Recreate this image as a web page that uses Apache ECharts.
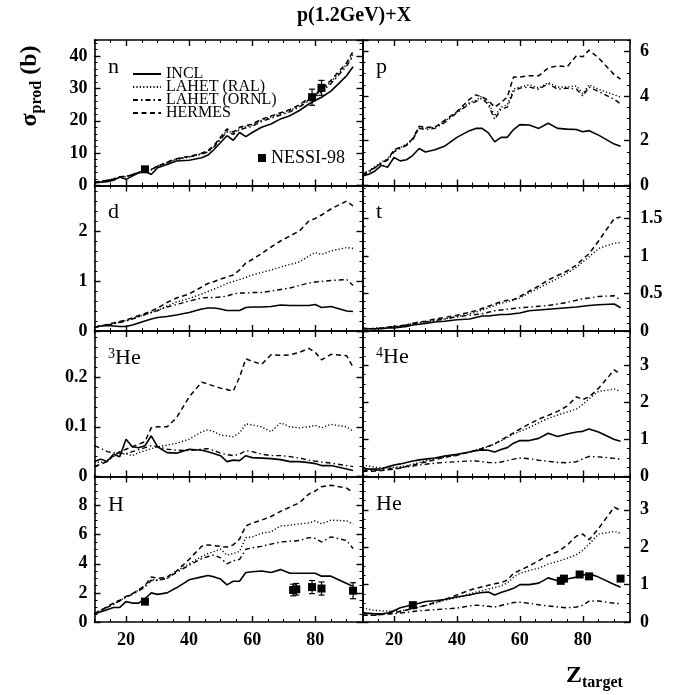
<!DOCTYPE html>
<html><head><meta charset="utf-8">
<script src="https://cdn.jsdelivr.net/npm/echarts@6/dist/echarts.min.js"></script>
<style>html,body{margin:0;padding:0;background:#fff}#c{width:693px;height:695px}</style>
</head><body><div id="c"></div>
<script>
// ---- data ----
const Z = [10,12,14,16,18,20,22,24,26,28,30,33,36,40,44,46,48,50,52,54,56,58,60,63,66,69,72,75,78,80,82,85,90,92];
const XTICKS = [20,40,60,80];
const MODELS = ['INCL','LAHET (RAL)','LAHET (ORNL)','HERMES'];

const n_INCL   = [0.8,1.0,1.2,1.6,2.6,1.9,2.9,3.9,4.5,3.4,5.5,6.5,7.6,7.8,8.6,9.4,11.2,13.3,15.4,14.0,16.4,15.1,16.4,18.0,19.0,20.6,21.6,23.2,25.2,26.3,27.3,29.2,34.0,36.7];
const n_RAL    = [1.0,1.2,1.5,1.9,2.5,2.7,3.2,3.9,4.6,4.8,5.8,7.0,8.0,8.8,9.8,10.5,12.2,14.6,17.0,16.2,17.6,18.2,18.7,20.2,21.2,22.2,23.2,24.7,26.6,27.6,29.5,32.0,37.5,40.5];
const n_ORNL   = [1.1,1.3,1.6,2.0,2.7,2.8,3.4,4.1,4.8,5.0,6.0,7.1,8.2,8.9,9.7,10.4,12.0,14.3,16.6,15.8,17.2,17.8,18.3,19.8,20.8,21.8,22.8,24.3,26.2,27.2,29.0,31.5,37.0,40.0];
const n_HERMES = [1.0,1.3,1.6,2.0,2.6,2.8,3.3,4.0,4.8,4.9,6.0,7.2,8.3,9.0,10.0,10.8,12.5,15.0,17.5,16.5,18.0,18.5,19.0,20.5,21.5,22.5,23.5,25.0,27.0,28.0,30.0,32.5,38.0,41.5];

const p_INCL   = [0.42,0.5,0.65,0.9,0.82,1.25,1.1,1.15,1.35,1.65,1.5,1.6,1.75,2.15,2.45,2.55,2.55,2.35,1.95,2.15,2.15,2.5,2.72,2.7,2.55,2.78,2.55,2.52,2.5,2.4,2.45,2.25,1.85,1.75];
const p_RAL    = [0.5,0.65,0.85,1.05,1.2,1.55,1.7,1.85,2.1,2.6,2.55,2.6,2.85,3.3,3.7,3.8,4.0,3.7,3.1,3.5,3.6,4.3,4.4,4.5,4.35,4.6,4.4,4.4,4.45,4.1,4.5,4.3,4.05,3.95];
const p_ORNL   = [0.45,0.6,0.8,1.0,1.15,1.5,1.65,1.8,2.05,2.55,2.5,2.55,2.8,3.25,3.65,3.75,3.9,3.6,2.95,3.4,3.5,4.2,4.35,4.4,4.3,4.55,4.3,4.35,4.3,4.0,4.4,4.2,3.85,3.65];
const p_HERMES = [0.5,0.65,0.8,1.0,1.15,1.6,1.7,1.8,2.1,2.65,2.6,2.6,2.9,3.3,3.85,4.05,3.95,3.8,3.5,3.7,3.95,4.85,4.85,4.9,4.9,5.25,5.35,5.3,5.8,5.75,6.05,5.7,4.95,4.75];

const d_INCL   = [0.08,0.1,0.11,0.1,0.09,0.09,0.12,0.16,0.2,0.24,0.27,0.29,0.32,0.37,0.44,0.46,0.46,0.44,0.41,0.41,0.41,0.47,0.48,0.48,0.49,0.52,0.51,0.51,0.51,0.53,0.47,0.49,0.4,0.39];
const d_RAL    = [0.08,0.1,0.12,0.15,0.18,0.21,0.25,0.29,0.33,0.37,0.41,0.5,0.58,0.65,0.74,0.79,0.84,0.89,0.95,0.99,1.03,1.07,1.12,1.17,1.22,1.28,1.33,1.38,1.5,1.57,1.53,1.6,1.67,1.65];
const d_ORNL   = [0.08,0.1,0.12,0.14,0.17,0.2,0.24,0.28,0.33,0.37,0.41,0.48,0.53,0.6,0.66,0.67,0.67,0.68,0.7,0.74,0.76,0.76,0.77,0.77,0.8,0.83,0.86,0.91,0.96,0.98,0.99,1.01,1.03,0.91];
const d_HERMES = [0.07,0.1,0.13,0.16,0.19,0.22,0.26,0.31,0.35,0.4,0.46,0.57,0.66,0.74,0.88,0.95,0.99,1.04,1.08,1.12,1.22,1.36,1.43,1.55,1.68,1.8,1.9,2.0,2.2,2.25,2.32,2.44,2.6,2.5];

const t_INCL   = [0.04,0.03,0.03,0.03,0.04,0.04,0.05,0.06,0.08,0.09,0.1,0.12,0.13,0.15,0.16,0.18,0.2,0.2,0.21,0.22,0.22,0.23,0.24,0.27,0.28,0.29,0.3,0.31,0.32,0.33,0.34,0.35,0.36,0.31];
const t_RAL    = [0.03,0.03,0.04,0.04,0.05,0.06,0.07,0.08,0.1,0.11,0.12,0.14,0.16,0.19,0.23,0.25,0.28,0.31,0.34,0.37,0.39,0.41,0.44,0.51,0.57,0.64,0.7,0.77,0.85,0.92,0.99,1.1,1.17,1.18];
const t_ORNL   = [0.03,0.03,0.03,0.04,0.05,0.06,0.07,0.08,0.1,0.11,0.12,0.14,0.16,0.19,0.21,0.22,0.23,0.25,0.27,0.28,0.29,0.3,0.31,0.32,0.33,0.34,0.36,0.38,0.41,0.43,0.44,0.46,0.47,0.41];
const t_HERMES = [0.03,0.03,0.03,0.04,0.05,0.05,0.06,0.08,0.1,0.12,0.13,0.16,0.18,0.21,0.25,0.27,0.3,0.33,0.36,0.39,0.41,0.42,0.46,0.53,0.6,0.68,0.74,0.8,0.88,0.96,1.03,1.2,1.5,1.52];

const he3_INCL   = [0.03,0.035,0.03,0.045,0.04,0.075,0.06,0.058,0.062,0.082,0.06,0.048,0.047,0.055,0.053,0.05,0.046,0.042,0.03,0.033,0.032,0.042,0.038,0.037,0.036,0.034,0.03,0.03,0.028,0.026,0.022,0.022,0.015,0.012];
const he3_RAL    = [0.03,0.028,0.033,0.04,0.045,0.046,0.042,0.048,0.052,0.056,0.06,0.063,0.067,0.075,0.09,0.094,0.09,0.083,0.082,0.08,0.088,0.106,0.104,0.1,0.09,0.108,0.1,0.098,0.1,0.103,0.098,0.105,0.1,0.091];
const he3_ORNL   = [0.062,0.057,0.05,0.048,0.047,0.046,0.05,0.054,0.058,0.062,0.06,0.055,0.053,0.052,0.055,0.056,0.052,0.047,0.044,0.042,0.045,0.052,0.05,0.045,0.042,0.042,0.04,0.037,0.033,0.031,0.029,0.027,0.022,0.02];
const he3_HERMES = [0.02,0.025,0.03,0.042,0.05,0.055,0.06,0.065,0.07,0.098,0.1,0.1,0.118,0.16,0.19,0.186,0.182,0.178,0.175,0.172,0.2,0.237,0.232,0.226,0.245,0.244,0.245,0.25,0.258,0.25,0.235,0.246,0.243,0.22];

const he4_INCL   = [0.22,0.2,0.2,0.21,0.26,0.31,0.34,0.38,0.42,0.45,0.47,0.5,0.55,0.6,0.66,0.7,0.72,0.71,0.66,0.73,0.78,0.9,0.97,0.97,1.03,1.17,1.08,1.15,1.2,1.22,1.28,1.2,1.0,0.95];
const he4_RAL    = [0.32,0.28,0.25,0.24,0.24,0.25,0.27,0.29,0.33,0.38,0.42,0.48,0.52,0.58,0.66,0.72,0.76,0.8,0.88,0.96,1.05,1.15,1.22,1.32,1.45,1.57,1.66,1.74,1.82,1.95,2.1,2.3,2.36,2.3];
const he4_ORNL   = [0.16,0.17,0.17,0.18,0.2,0.22,0.24,0.26,0.28,0.31,0.33,0.36,0.38,0.4,0.42,0.42,0.4,0.38,0.37,0.39,0.43,0.47,0.5,0.48,0.44,0.41,0.38,0.37,0.4,0.48,0.54,0.53,0.49,0.47];
const he4_HERMES = [0.14,0.14,0.15,0.16,0.18,0.2,0.23,0.27,0.31,0.35,0.39,0.45,0.52,0.57,0.66,0.7,0.76,0.82,0.88,0.98,1.08,1.18,1.28,1.42,1.55,1.65,1.76,1.9,2.15,2.08,2.15,2.38,2.88,2.76];

const H_INCL   = [0.55,0.7,0.85,1.0,1.0,1.4,1.3,1.3,1.6,2.0,1.9,2.0,2.35,2.9,3.1,3.2,3.1,2.95,2.55,2.8,2.8,3.4,3.45,3.5,3.4,3.6,3.35,3.35,3.35,3.35,3.15,3.15,2.65,2.45];
const H_RAL    = [0.6,0.8,1.0,1.25,1.45,1.75,1.95,2.2,2.5,2.9,2.9,3.0,3.5,4.0,4.5,4.7,4.85,5.0,4.6,4.7,4.85,5.8,5.85,6.1,6.2,6.6,6.65,6.75,6.8,6.95,6.75,7.0,6.95,6.75];
const H_ORNL   = [0.6,0.8,1.0,1.2,1.45,1.7,1.9,2.15,2.4,2.85,2.85,3.0,3.4,3.9,4.35,4.5,4.6,4.4,4.0,4.2,4.3,5.0,5.1,5.2,5.35,5.5,5.55,5.6,5.8,5.75,5.5,5.85,5.6,5.05];
const H_HERMES = [0.55,0.8,1.05,1.3,1.5,1.75,1.95,2.2,2.5,3.1,3.0,3.1,3.5,4.3,5.2,5.3,5.25,5.2,5.15,5.3,5.7,6.6,6.8,7.0,7.25,7.6,7.9,8.2,8.8,9.0,9.3,9.4,9.2,8.9];

const He_INCL   = [0.24,0.23,0.22,0.22,0.24,0.3,0.38,0.42,0.47,0.5,0.55,0.57,0.6,0.67,0.72,0.76,0.79,0.8,0.72,0.79,0.84,0.9,1.0,1.0,1.04,1.18,1.1,1.15,1.2,1.25,1.29,1.2,1.0,0.93];
const He_RAL    = [0.38,0.34,0.31,0.3,0.29,0.29,0.3,0.32,0.35,0.4,0.44,0.5,0.58,0.65,0.75,0.8,0.84,0.88,0.92,0.96,1.04,1.2,1.3,1.38,1.44,1.55,1.62,1.7,1.8,1.92,2.08,2.35,2.42,2.37];
const He_ORNL   = [0.18,0.18,0.19,0.2,0.21,0.22,0.24,0.26,0.28,0.3,0.31,0.33,0.35,0.37,0.43,0.45,0.44,0.42,0.4,0.44,0.48,0.52,0.53,0.5,0.46,0.43,0.4,0.38,0.4,0.45,0.56,0.56,0.5,0.49];
const He_HERMES = [0.18,0.18,0.18,0.2,0.22,0.25,0.28,0.32,0.36,0.4,0.44,0.52,0.6,0.72,0.85,0.9,0.94,0.98,1.02,1.05,1.12,1.3,1.38,1.5,1.64,1.78,1.88,2.05,2.3,2.35,2.2,2.5,3.07,2.98];

// NESSI-98: [Z, value, error]
const nessi_n  = [[26,5.0,0.4],[79,27.3,2.5],[82,30.2,2.3]];
const nessi_H  = [[26,1.4,0.15],[73,2.2,0.4],[74,2.25,0.4],[79,2.4,0.45],[82,2.3,0.45],[92,2.15,0.55]];
const nessi_He = [[26,0.45,0.05],[73,1.1,0.05],[74,1.16,0.05],[79,1.27,0.05],[82,1.22,0.05],[92,1.16,0.05]];

// ---- layout / styles ----
const FONT = '"Liberation Serif","Times New Roman",serif';
const COL_LEFT = [94.5, 362.5], COL_W = [268, 267.5], TOP0 = 40, ROW_H = 145.5;
const STYLES = [
  {width:1.6, type:'solid'},
  {width:1.4, type:[1.2,2.2]},
  {width:1.4, type:[5,3,1.5,3]},
  {width:1.5, type:[5,3.5]}
];
const panels = [
  {sup:'', lab:'n',  max:45,   iv:10,  minor:2,    d:[n_INCL,n_RAL,n_ORNL,n_HERMES], nessi:nessi_n, err:true},
  {sup:'', lab:'p',  max:6.5,  iv:2,   minor:0.5,  d:[p_INCL,p_RAL,p_ORNL,p_HERMES]},
  {sup:'', lab:'d',  max:2.91, iv:1,   minor:0.2,  d:[d_INCL,d_RAL,d_ORNL,d_HERMES]},
  {sup:'', lab:'t',  max:1.94, iv:0.5, minor:0.1,  d:[t_INCL,t_RAL,t_ORNL,t_HERMES]},
  {sup:'3',lab:'He', max:0.293,iv:0.1, minor:0.02, d:[he3_INCL,he3_RAL,he3_ORNL,he3_HERMES]},
  {sup:'4',lab:'He', max:3.93, iv:1,   minor:0.25, d:[he4_INCL,he4_RAL,he4_ORNL,he4_HERMES]},
  {sup:'', lab:'H',  max:10,   iv:2,   minor:0.5,  d:[H_INCL,H_RAL,H_ORNL,H_HERMES], nessi:nessi_H, err:true},
  {sup:'', lab:'He', max:3.89, iv:1,   minor:0.25, d:[He_INCL,He_RAL,He_ORNL,He_HERMES], nessi:nessi_He, err:false}
];
const labelBase = [78, 78, 223, 223, 369, 368, 516, 515];

const grid = [], xAxis = [], yAxis = [], series = [], graphic = [];
const AX = {color:'#000', width:1.6};
const lblStyle = {color:'#000', fontFamily:FONT, fontWeight:'bold', fontSize:18};

panels.forEach((p, g) => {
  const col = g % 2, row = Math.floor(g / 2);
  grid.push({left:COL_LEFT[col], top:TOP0 + row*ROW_H, width:COL_W[col], height:ROW_H});
  // x axes: bottom major, bottom minor, top major, top minor
  ['bottom','top'].forEach(pos => {
    xAxis.push({type:'value', gridIndex:g, min:10, max:95, position:pos,
      splitLine:{show:false},
      axisLine:{show:true, onZero:false, lineStyle:AX},
      axisTick:{show:true, inside:true, length:6, customValues:XTICKS, lineStyle:{color:'#000', width:1.4}},
      axisLabel:(pos==='bottom' && row===3) ? Object.assign({show:true, customValues:XTICKS, margin:9}, lblStyle) : {show:false}
    });
    xAxis.push({type:'value', gridIndex:g, min:10, max:95, interval:5, position:pos,
      splitLine:{show:false},
      axisLine:{show:false, onZero:false},
      axisTick:{show:true, inside:true, length:3, lineStyle:{color:'#000', width:1}},
      axisLabel:{show:false}
    });
  });
  // y axes: left major, left minor, right major, right minor
  ['left','right'].forEach(pos => {
    const showL = (pos==='left' && col===0) || (pos==='right' && col===1);
    yAxis.push({type:'value', gridIndex:g, min:0, max:p.max, interval:p.iv, position:pos,
      splitLine:{show:false},
      axisLine:{show:true, onZero:false, lineStyle:AX},
      axisTick:{show:true, inside:true, length:6, lineStyle:{color:'#000', width:1.4}},
      axisLabel:showL ? Object.assign({show:true, showMaxLabel:false, margin:pos==='left'?7:10}, lblStyle) : {show:false}
    });
    yAxis.push({type:'value', gridIndex:g, min:0, max:p.max, interval:p.minor, position:pos,
      splitLine:{show:false},
      axisLine:{show:false, onZero:false},
      axisTick:{show:true, inside:true, length:3, lineStyle:{color:'#000', width:1}},
      axisLabel:{show:false}
    });
  });
  // model curves
  p.d.forEach((arr, k) => {
    series.push({type:'line', name:MODELS[k], xAxisIndex:g*4, yAxisIndex:g*4,
      symbol:'none', showSymbol:false, silent:true, animation:false,
      lineStyle:{color:'#000', width:STYLES[k].width, type:STYLES[k].type},
      itemStyle:{color:'#000', opacity:0},
      data:Z.map((z, i) => [z, arr[i]])});
  });
  if (p.nessi) {
    if (p.err) {
      series.push({type:'custom', name:'NESSI-98 err', xAxisIndex:g*4, yAxisIndex:g*4, silent:true, animation:false,
        data:p.nessi.map(d => [d[0], d[1]-d[2], d[1]+d[2]]),
        encode:{x:0, y:[1,2]},
        renderItem:(params, api) => {
          const x = api.value(0);
          const a = api.coord([x, api.value(1)]), b = api.coord([x, api.value(2)]);
          const w = 3, st = {stroke:'#000', lineWidth:1.2};
          return {type:'group', children:[
            {type:'line', shape:{x1:a[0], y1:a[1], x2:b[0], y2:b[1]}, style:st},
            {type:'line', shape:{x1:a[0]-w, y1:a[1], x2:a[0]+w, y2:a[1]}, style:st},
            {type:'line', shape:{x1:b[0]-w, y1:b[1], x2:b[0]+w, y2:b[1]}, style:st}
          ]};
        }});
    }
    series.push({type:'scatter', name:'NESSI-98', xAxisIndex:g*4, yAxisIndex:g*4,
      symbol:'rect', symbolSize:8, silent:true, animation:false, z:5,
      itemStyle:{color:'#000', opacity:1},
      data:p.nessi.map(d => [d[0], d[1]])});
  }
  // panel label
  const lx = col===0 ? 108 : 376;
  graphic.push({type:'text', x:lx, y:labelBase[g], z:100,
    style:{text: p.sup ? '{s|'+p.sup+'}{m|'+p.lab+'}' : '{m|'+p.lab+'}',
      rich:{s:{fontFamily:FONT, fontSize:14, verticalAlign:'top', lineHeight:22, padding:[0,0,8,0]},
            m:{fontFamily:FONT, fontSize:22, lineHeight:22}},
      fill:'#000', align:'left', verticalAlign:'bottom'}});
});

// titles
graphic.push({type:'text', x:354, y:16, style:{text:'p(1.2GeV)+X', fontFamily:FONT, fontWeight:'bold', fontSize:20, fill:'#000', align:'center', verticalAlign:'middle'}});
graphic.push({type:'text', x:30, y:86, rotation:Math.PI/2,
  style:{text:'{a|σ}{b|prod}{a| (b)}', align:'center', verticalAlign:'middle', fill:'#000',
    rich:{a:{fontFamily:FONT, fontWeight:'bold', fontSize:24, lineHeight:30, verticalAlign:'middle'},
          b:{fontFamily:FONT, fontWeight:'bold', fontSize:16, lineHeight:30, verticalAlign:'bottom', padding:[10,0,0,0]}}}});
graphic.push({type:'text', x:566, y:676,
  style:{text:'{a|Z}{b|target}', align:'left', verticalAlign:'middle', fill:'#000',
    rich:{a:{fontFamily:FONT, fontWeight:'bold', fontSize:24, lineHeight:30, verticalAlign:'middle'},
          b:{fontFamily:FONT, fontWeight:'bold', fontSize:16, lineHeight:30, verticalAlign:'bottom', padding:[10,0,0,0]}}}});

const chart = echarts.init(document.getElementById('c'), null, {renderer:'canvas'});
chart.setOption({
  animation:false,
  backgroundColor:'#fff',
  grid, xAxis, yAxis, series, graphic,
  legend:[
    {data:MODELS, orient:'vertical', left:127, top:61, itemWidth:28, itemHeight:13, itemGap:-3,
     selectedMode:false, textStyle:{fontFamily:FONT, fontSize:16, color:'#000'}},
    {data:[{name:'NESSI-98', icon:'rect'}], left:253, top:144, itemWidth:8, itemHeight:8,
     selectedMode:false, itemStyle:{opacity:1, color:'#000'},
     textStyle:{fontFamily:FONT, fontSize:18, color:'#000'}}
  ]
});
</script></body></html>
